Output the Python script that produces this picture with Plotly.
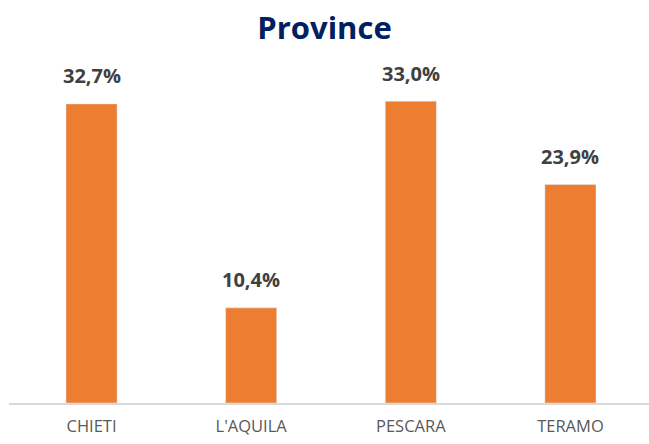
import plotly.graph_objects as go

categories = ["CHIETI", "L'AQUILA", "PESCARA", "TERAMO"]
values = [32.7, 10.4, 33.0, 23.9]
labels = ["32,7%", "10,4%", "33,0%", "23,9%"]

fig = go.Figure(go.Bar(
    x=categories, y=values,
    marker=dict(color="#ED7D31"), width=0.32,
))
for c, v, t in zip(categories, values, labels):
    fig.add_annotation(x=c, y=v, text="<b>%s</b>" % t, showarrow=False,
                       yanchor="middle", yshift=28,
                       font=dict(family="Open Sans", size=20, color="#404040"))
fig.update_layout(
    width=649, height=444,
    margin=dict(l=9, r=0, t=60, b=41, autoexpand=False),
    paper_bgcolor="white", plot_bgcolor="white",
    title=dict(text="<b>Province</b>", x=0.5, xanchor="center", y=0.937, yanchor="middle",
               font=dict(family="Open Sans", size=31, color="#002060")),
    showlegend=False,
)
fig.update_xaxes(range=[-0.517, 3.492], showline=True, linecolor="#D9D9D9", linewidth=2,
                 automargin=False,
                 ticks="outside", ticklen=7, tickcolor="rgba(0,0,0,0)",
                 tickfont=dict(family="Open Sans", size=16.5, color="#595959"))
fig.update_yaxes(range=[0, 37.5], visible=False, showgrid=False, automargin=False)
fig.write_html("out.html", post_script="document.body.style.margin='0';",
               config={"displayModeBar": False})
